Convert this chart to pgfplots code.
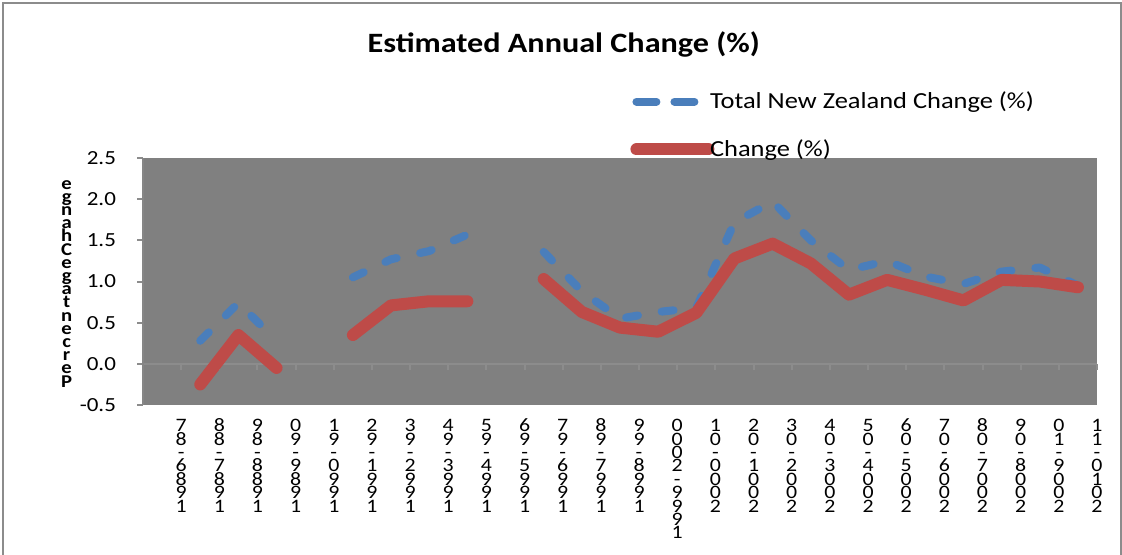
\documentclass[border=0pt]{standalone}
\usepackage{pgfplots}
\pgfplotsset{compat=1.18}
\usepackage{fontspec}
\setmainfont{Carlito}[FakeStretch=1.15]

\definecolor{plotbg}{HTML}{808080}
\definecolor{axgray}{HTML}{868686}
\definecolor{zerogray}{HTML}{8C8C8C}
\definecolor{framegray}{HTML}{8C8C8C}
\definecolor{nzblue}{HTML}{4A7EBB}
\definecolor{chred}{HTML}{BE4B48}

% stacked text, one character per row
\newdimen\vsstep
\def\vs#1#2{\vsstep=#1\vbox{\offinterlineskip\vsA#2\relax}}
\def\vsA#1{\ifx\relax#1\else
  \hbox to 1em{\hss\vrule height\vsstep depth 0pt width 0pt\smash{#1}\hss}%
  \expandafter\vsA\fi}

\pgfplotsset{
  solidleg/.style={legend image code/.code={\draw[##1] (2pt,0pt) -- (38pt,0pt);}},
  dashleg/.style={legend image code/.code={\draw[##1, dash pattern=on 10pt off 9pt] (2pt,0pt) -- (31pt,0pt);}},
}

% x = category slot, nan = no value
\pgfplotstableread{
x   total   change
1   0.28   -0.25
2   0.74    0.35
3   0.28   -0.05
4   nan     nan
5   1.05    0.35
6   1.27    0.71
7   1.37    0.76
8   1.57    0.76
9   nan     nan
10  1.36    1.03
11  0.88    0.63
12  0.55    0.44
13  0.63    0.39
14  0.68    0.62
15  1.72    1.28
16  1.97    1.46
17  1.50    1.22
18  1.14    0.84
19  1.25    1.02
20  1.06    0.90
21  0.97    0.77
22  1.12    1.02
23  1.17    1.00
24  0.95    0.93
}\annual

\begin{document}
\begin{tikzpicture}
\useasboundingbox (0,0) rectangle (561pt,277pt);
\draw[framegray, line width=0.8pt] (1.5pt,-5pt) -- (1.5pt,275.5pt) -- (560.5pt,275.5pt) -- (560.5pt,-5pt);
\begin{axis}[
  at={(71.5pt,74.5pt)}, anchor=south west,
  scale only axis, width=477pt, height=123.5pt,
  xmin=-0.5, xmax=24.5, ymin=-0.5, ymax=2.5,
  axis x line=middle, axis y line=left,
  axis line style={-},
  x axis line style={zerogray, line width=1pt},
  y axis line style={axgray, line width=1pt},
  axis background/.style={fill=plotbg},
  tick align=outside, major tick length=3pt,
  tick style={zerogray, line width=1pt},
  xtick={0.5,1.5,...,24.5},
  xticklabels={
    \vs{6.7pt}{78-6891},\vs{6.7pt}{88-7891},\vs{6.7pt}{98-8891},\vs{6.7pt}{09-9891},
    \vs{6.7pt}{19-0991},\vs{6.7pt}{29-1991},\vs{6.7pt}{39-2991},\vs{6.7pt}{49-3991},
    \vs{6.7pt}{59-4991},\vs{6.7pt}{69-5991},\vs{6.7pt}{79-6991},\vs{6.7pt}{89-7991},
    \vs{6.7pt}{99-8991},\vs{6.7pt}{0002-9991},\vs{6.7pt}{10-0002},\vs{6.7pt}{20-1002},
    \vs{6.7pt}{30-2002},\vs{6.7pt}{40-3002},\vs{6.7pt}{50-4002},\vs{6.7pt}{60-5002},
    \vs{6.7pt}{70-6002},\vs{6.7pt}{80-7002},\vs{6.7pt}{90-8002},\vs{6.7pt}{01-9002},
    \vs{6.7pt}{11-0102}},
  xticklabel style={anchor=north, yshift=-24pt, inner sep=0pt,
    font=\fontsize{9.5}{11}\selectfont},
  ytick={-0.5,0,...,2.5},
  yticklabel style={font=\fontsize{10}{12}\selectfont, xshift=-7pt,
    /pgf/number format/.cd, fixed, fixed zerofill, precision=1, assume math mode=true},
  ylabel={\vs{6.6pt}{egnahCegatnecreP}},
  ylabel style={rotate=-90, at={(axis description cs:-0.08,0.5)}, anchor=center,
    inner sep=0pt, font=\bfseries\fontsize{9}{11}\selectfont},
  title={Estimated Annual Change (\%)},
  title style={at={(axis description cs:0.441,1.38)}, anchor=base, yshift=0pt,
    font=\bfseries\fontsize{14}{16}\selectfont},
  legend style={at={(axis description cs:0.5105,1.286)}, anchor=north west,
    draw=none, fill=none, inner sep=0pt, row sep=10pt,
    font=\fontsize{11.5}{13}\selectfont, cells={anchor=west},
    nodes={inner xsep=0.3pt}},
  unbounded coords=jump,
]
\addplot[nzblue, line width=4pt, line cap=round, line join=round,
  dash pattern=on 6pt off 12pt, dashleg]
  table[x=x, y=total] {\annual};
\addlegendentry{\hspace{-2.5pt}Total New Zealand Change (\%)}
\addplot[chred, line width=6pt, line cap=round, line join=round, solidleg]
  table[x=x, y=change] {\annual};
\addlegendentry{\hspace{-2.5pt}Change (\%)}
\end{axis}
\end{tikzpicture}
\end{document}
